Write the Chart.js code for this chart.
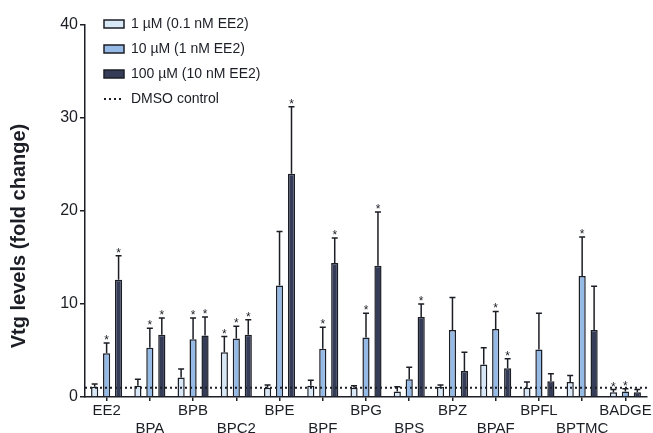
<!DOCTYPE html>
<html>
<head>
<meta charset="utf-8">
<script src="https://cdn.jsdelivr.net/npm/chart.js@4.4.0/dist/chart.umd.min.js"></script>
<style>
  html, body { margin: 0; padding: 0; background: #fff; }
  #chart { display: block; }
</style>
</head>
<body>
<canvas id="chart" width="653" height="433"></canvas>
<script>
// data
const categories = ['EE2', 'BPA', 'BPB', 'BPC2', 'BPE', 'BPF', 'BPG', 'BPS', 'BPZ', 'BPAF', 'BPFL', 'BPTMC', 'BADGE'];

const low = [1.1, 1.2, 2.1, 4.8, 1.0, 1.2, 1.0, 0.6, 1.1, 3.5, 1.0, 1.6, 0.5];
const lowSd = [0.3, 0.7, 0.9, 1.7, 0.3, 0.6, 0.2, 0.5, 0.2, 1.8, 0.6, 0.7, 0.3];
const lowStar = [0, 0, 0, 1, 0, 0, 0, 0, 0, 0, 0, 0, 1];

const mid = [4.7, 5.3, 6.2, 6.3, 12.0, 5.2, 6.4, 1.9, 7.2, 7.3, 5.1, 13.0, 0.6];
const midSd = [1.1, 2.1, 2.3, 1.3, 5.8, 2.3, 2.6, 1.3, 3.5, 1.9, 3.9, 4.2, 0.3];
const midStar = [1, 1, 1, 1, 0, 1, 1, 0, 0, 1, 0, 1, 1];

const high = [12.6, 6.7, 6.6, 6.7, 24.0, 14.4, 14.1, 8.6, 2.8, 3.1, 1.7, 7.2, 0.5];
const highSd = [2.6, 1.8, 2.0, 1.6, 7.2, 2.7, 5.8, 1.4, 2.0, 1.0, 0.8, 4.7, 0.3];
const highStar = [1, 1, 1, 1, 1, 1, 1, 1, 0, 1, 0, 0, 0];

const seriesNames = ['1 µM (0.1 nM EE2)', '10 µM (1 nM EE2)', '100 µM (10 nM EE2)'];
const controlName = 'DMSO control';
const controlLevel = 1;
const yTicks = [0, 10, 20, 30, 40];
const yTitle = 'Vtg levels (fold change)';

const ink = '#1c1e26';
const controlDash = [2, 3];
Chart.defaults.font.family = 'Arial, "Liberation Sans", sans-serif';
Chart.defaults.color = ink;

// dotted DMSO control level across the whole plot
const controlLine = {
    id: 'controlLine',
    afterDatasetsDraw(chart) {
        const { ctx, chartArea } = chart;
        const yPix = chart.scales.y.getPixelForValue(controlLevel);
        ctx.save();
        ctx.strokeStyle = ink;
        ctx.lineWidth = 2;
        ctx.setLineDash(controlDash);
        ctx.beginPath();
        ctx.moveTo(chartArea.left, yPix);
        ctx.lineTo(chartArea.right + 3, yPix);
        ctx.stroke();
        ctx.restore();
    }
};

// whiskers (upper SD) and asterisks on top of each bar
const errorBars = {
    id: 'errorBars',
    afterDatasetsDraw(chart) {
        const ctx = chart.ctx;
        const y = chart.scales.y;
        const sets = [[low, lowSd, lowStar], [mid, midSd, midStar], [high, highSd, highStar]];
        ctx.save();
        ctx.strokeStyle = ink;
        ctx.fillStyle = ink;
        ctx.lineWidth = 1.5;
        ctx.font = '12px Arial, "Liberation Sans", sans-serif';
        ctx.textAlign = 'center';
        ctx.textBaseline = 'alphabetic';
        sets.forEach(([vals, sd, star], di) => {
            chart.getDatasetMeta(di).data.forEach((bar, j) => {
                const x = bar.x;
                const top = y.getPixelForValue(vals[j] + sd[j]);
                ctx.beginPath();
                ctx.moveTo(x, bar.y);
                ctx.lineTo(x, top);
                ctx.moveTo(x - 3, top);
                ctx.lineTo(x + 3, top);
                ctx.stroke();
                if (star[j]) ctx.fillText('*', x, top + 1);
            });
        });
        ctx.restore();
    }
};

// vertical axis title
const axisTitle = {
    id: 'axisTitle',
    afterDraw(chart) {
        const ctx = chart.ctx;
        ctx.save();
        ctx.translate(19, 236);
        ctx.rotate(-Math.PI / 2);
        ctx.font = 'bold 20px Arial, "Liberation Sans", sans-serif';
        ctx.fillStyle = ink;
        ctx.textAlign = 'center';
        ctx.textBaseline = 'middle';
        ctx.fillText(yTitle, 0, 0);
        ctx.restore();
    }
};

// legend sits inside the plot, top left
const legendPlace = {
    id: 'legendPlace',
    afterLayout(chart) {
        const l = chart.legend;
        l.left = 93;
        l.top = 6;
        l.right = 460;
        l.bottom = 130;
        l.width = l.right - l.left;
        l.height = l.bottom - l.top;
    }
};

function barSet(label, data, fill) {
    return {
        label: label,
        data: data,
        backgroundColor: fill,
        borderColor: ink,
        borderWidth: 1.5,
        pointStyle: 'rect',
        categoryPercentage: 0.83,
        barPercentage: 0.6
    };
}

const ctx = document.getElementById('chart').getContext('2d');
new Chart(ctx, {
    type: 'bar',
    data: {
        labels: categories,
        datasets: [
            barSet(seriesNames[0], low, '#d9e8f7'),
            barSet(seriesNames[1], mid, '#96bae6'),
            barSet(seriesNames[2], high, '#343c58')
        ]
    },
    options: {
        responsive: false,
        animation: false,
        layout: { padding: { left: 0, right: 6, top: 25, bottom: 0 } },
        scales: {
            x: {
                offset: true,
                grid: { display: true, drawOnChartArea: false, offset: false, tickLength: 4, color: ink, lineWidth: 1.5 },
                border: { color: ink, width: 1.5 },
                ticks: {
                    autoSkip: false,
                    maxRotation: 0,
                    minRotation: 0,
                    padding: 1,
                    font: { size: 15, lineHeight: 1.2 },
                    callback: (v, i) => i % 2 ? ['', categories[i]] : categories[i]
                },
                afterFit: s => { s.height = 36; }
            },
            y: {
                min: 0,
                max: 40,
                afterBuildTicks: s => { s.ticks = yTicks.map(v => ({ value: v })); },
                grid: { display: true, drawOnChartArea: false, tickLength: 5, color: ink, lineWidth: 1.5 },
                border: { color: ink, width: 1.5 },
                ticks: { padding: 2, font: { size: 16 } },
                afterFit: s => { s.width = 85; }
            }
        },
        plugins: {
            tooltip: { enabled: false },
            legend: {
                position: 'chartArea',
                align: 'start',
                labels: {
                    usePointStyle: true,
                    pointStyleWidth: 20,
                    boxHeight: 8,
                    padding: 11,
                    font: { size: 14 },
                    generateLabels(chart) {
                        const items = Chart.defaults.plugins.legend.labels.generateLabels(chart);
                        items.forEach(it => { it.lineWidth = 1.5; });
                        items.push({
                            text: controlName,
                            fillStyle: 'rgba(0,0,0,0)',
                            strokeStyle: ink,
                            fontColor: ink,
                            lineWidth: 2,
                            lineDash: controlDash,
                            pointStyle: 'line',
                            hidden: false
                        });
                        return items;
                    }
                }
            }
        }
    },
    plugins: [controlLine, errorBars, axisTitle, legendPlace]
});
</script>
</body>
</html>
